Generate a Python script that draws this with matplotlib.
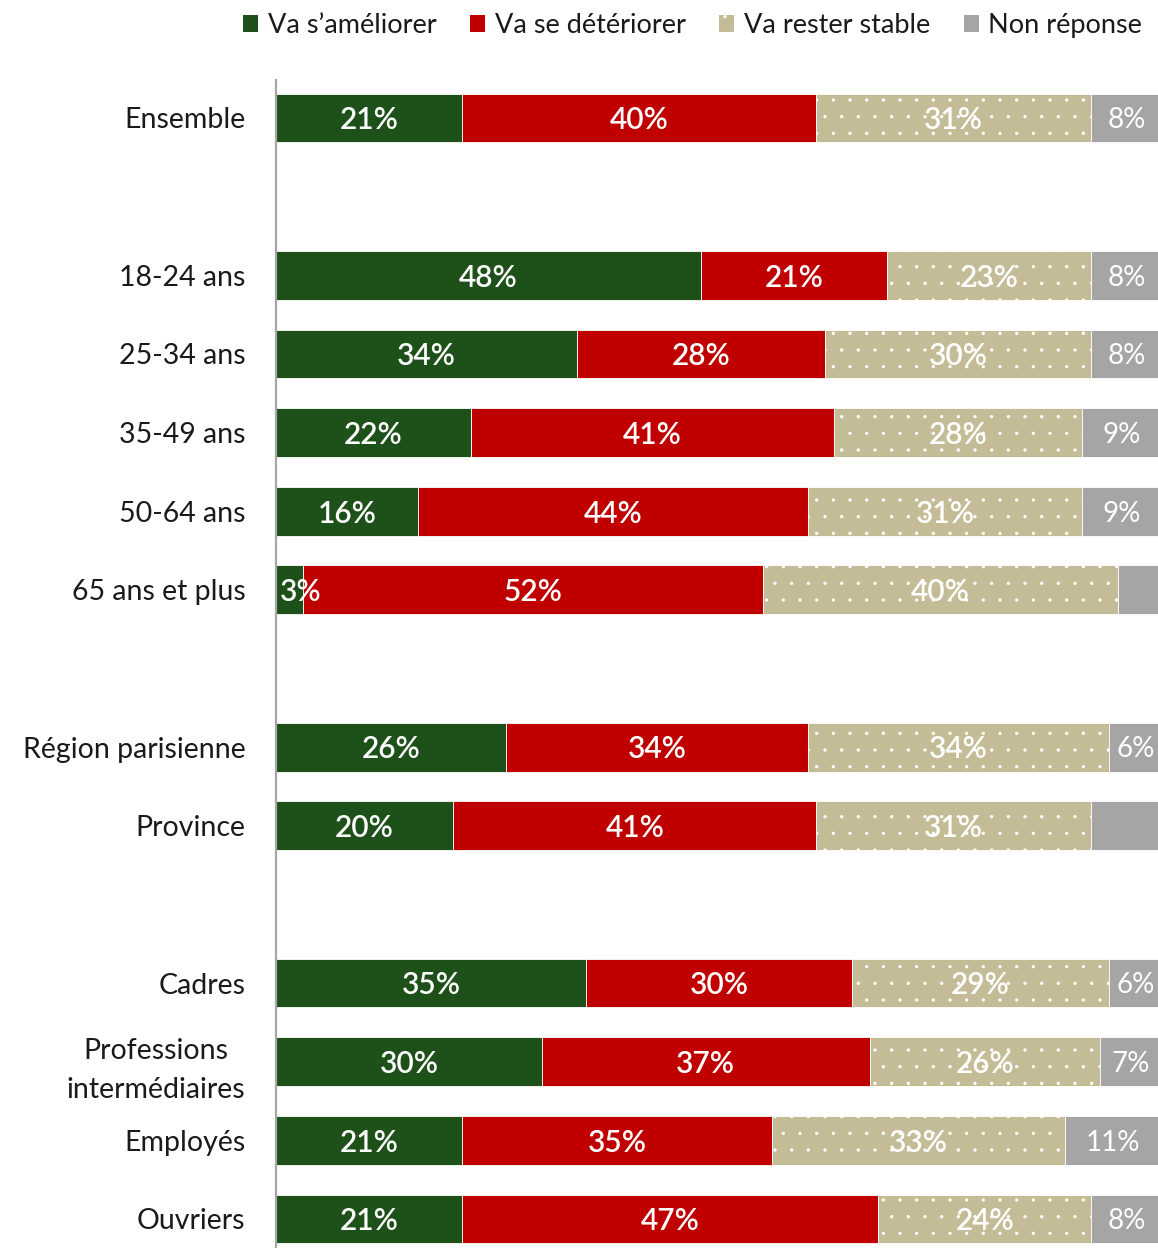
import matplotlib
matplotlib.use("Agg")
import matplotlib.pyplot as plt
from matplotlib.patches import Patch
import numpy as np

plt.rcParams["font.family"] = ["Lato", "DejaVu Sans"]
plt.rcParams["hatch.linewidth"] = 0.0

# Survey groups (a blank row separates each group)
groups = [
    ["Ensemble"],
    ["18-24 ans", "25-34 ans", "35-49 ans", "50-64 ans", "65 ans et plus"],
    ["Région parisienne", "Province"],
    ["Cadres", "Professions\nintermédiaires", "Employés", "Ouvriers"],
]

series_names = ["Va s\u2019améliorer", "Va se détériorer", "Va rester stable", "Non réponse"]
ameliorer = [21, 48, 34, 22, 16, 3, 26, 20, 35, 30, 21, 21]
deteriorer = [40, 21, 28, 41, 44, 52, 34, 41, 30, 37, 35, 47]
stable = [31, 23, 30, 28, 31, 40, 34, 31, 29, 26, 33, 24]
non_reponse = [8, 8, 8, 9, 9, 5, 6, 8, 6, 7, 11, 8]
nr_labelled = [True, True, True, True, True, False, True, False, True, True, True, True]

colors = ["#1D5119", "#C00000", "#C4BC96", "#A5A5A5"]

# Row positions: one row per category, an empty row between groups
labels, rows = [], []
r = 0
for gi, g in enumerate(groups):
    if gi > 0:
        r += 1
    for c in g:
        labels.append(c)
        rows.append(r)
        r += 1
rows = np.array(rows, dtype=float)

W, H = 1158, 1248
fig = plt.figure(figsize=(W / 100, H / 100), dpi=100)
ax_left, ax_top = 276 / W, 1 - 80 / H
ax = fig.add_axes([ax_left, 0, 1 - ax_left, ax_top])

bar_h = 0.62
series = [ameliorer, deteriorer, stable, non_reponse]
left = np.zeros(len(labels))
for si, vals in enumerate(series):
    vals = np.array(vals, dtype=float)
    kw = dict(color=colors[si], height=bar_h, edgecolor="white", linewidth=0.6)
    if si == 2:
        kw.update(hatch=".")
    ax.barh(rows, vals, left=left, **kw)
    for i, (x0, v) in enumerate(zip(left, vals)):
        if si == 3 and not nr_labelled[i]:
            continue
        txt = f"{v:.0f}%"
        if si == 3:
            ax.text(x0 + v / 2, rows[i] + 0.03, txt, ha="center", va="center",
                    color="white", fontsize=20, fontweight="normal")
        elif v < 5:
            ax.text(x0 + 0.4, rows[i] + 0.03, txt, ha="left", va="center",
                    color="white", fontsize=21.5, fontweight="semibold")
        else:
            ax.text(x0 + v / 2, rows[i] + 0.03, txt, ha="center", va="center",
                    color="white", fontsize=21.5, fontweight="semibold")
    left += vals

ax.set_xlim(0, 100 * (W - 276) / (1162 - 276))
ax.set_ylim(rows[-1] + 0.369, -0.483)
ax.set_yticks(rows)
ax.set_yticklabels(labels, fontsize=20.5, color="#1a1a1a", multialignment="center",
                   linespacing=1.6)
ax.tick_params(axis="y", length=0, pad=22)
ax.set_xticks([])
for s in ["top", "right", "bottom"]:
    ax.spines[s].set_visible(False)
ax.spines["left"].set_color("#A6A6A6")
ax.spines["left"].set_linewidth(1.6)

handles = [Patch(facecolor=colors[0]), Patch(facecolor=colors[1]),
           Patch(facecolor=colors[2], hatch=".", edgecolor="white", linewidth=0),
           Patch(facecolor=colors[3])]
fig.legend(handles, series_names, loc="upper right", bbox_to_anchor=(1142 / W, 1 - 13 / H),
           ncol=4, frameon=False, fontsize=19.5, handlelength=0.55, handleheight=0.55,
           handletextpad=0.35, columnspacing=1.25, labelcolor="#1a1a1a",
           borderpad=0, borderaxespad=0)

fig.savefig("out.png", dpi=100)
